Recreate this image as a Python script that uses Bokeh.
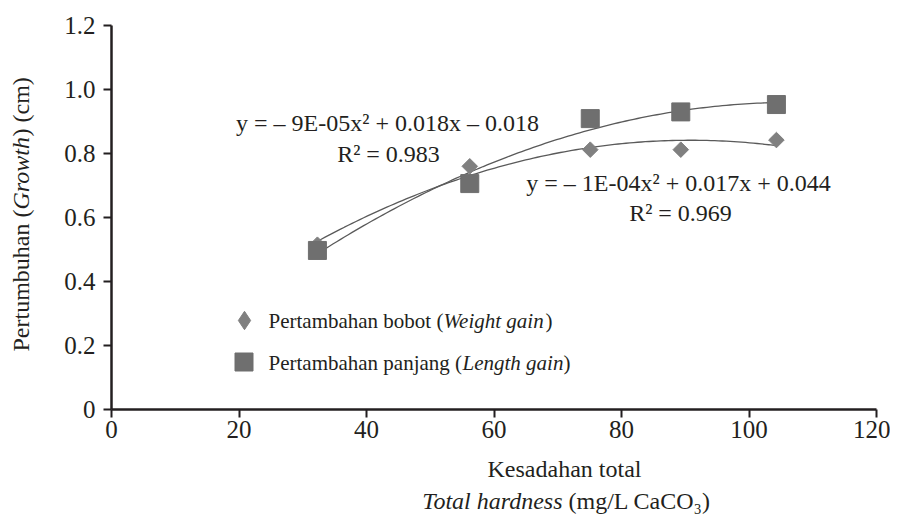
import numpy as np
from bokeh.plotting import figure
from bokeh.layouts import row, column
from bokeh.models import (Range1d, FixedTicker, CustomJSTickFormatter, Label,
                          Legend, LegendItem, ColumnDataSource)
from bokeh.embed import file_html
from bokeh.resources import INLINE

# ---- data ----
hardness = [32.3, 56.2, 75.1, 89.3, 104.3]
weight_gain = [0.515, 0.760, 0.812, 0.812, 0.842]
length_gain = [0.497, 0.706, 0.909, 0.930, 0.953]
x_ticks = [0, 20, 40, 60, 80, 100, 120]
y_ticks = [0, 0.2, 0.4, 0.6, 0.8, 1.0, 1.2]
eq_weight = "y = \u2013 1E-04x\u00b2 + 0.017x + 0.044"
r2_weight = "R\u00b2 = 0.969"
eq_length = "y = \u2013 9E-05x\u00b2 + 0.018x \u2013 0.018"
r2_length = "R\u00b2 = 0.983"

FONT = "Liberation Serif"
INK = "#231f20"


def text_panel(w, h):
    f = figure(width=w, height=h, output_backend="svg", toolbar_location=None,
               x_range=Range1d(0, 1), y_range=Range1d(0, 1),
               x_axis_location=None, y_axis_location=None, min_border=0)
    f.outline_line_color = None
    f.grid.visible = False
    return f


p = figure(width=850, height=455, output_backend="svg", toolbar_location=None,
           x_range=Range1d(0, 120), y_range=Range1d(0, 1.2),
           min_border_left=71, min_border_right=14, min_border_top=25,
           min_border_bottom=46)
p.outline_line_color = None
p.grid.visible = False

for ax in (p.xaxis[0], p.yaxis[0]):
    ax.axis_line_width = 2.5
    ax.axis_line_color = INK
    ax.major_tick_line_width = 2
    ax.major_tick_line_color = INK
    ax.major_tick_out = 8
    ax.major_tick_in = 0
    ax.minor_tick_line_color = None
    ax.major_label_text_font = FONT
    ax.major_label_text_font_size = "25px"
    ax.major_label_text_color = INK
p.xaxis[0].ticker = FixedTicker(ticks=x_ticks)
p.yaxis[0].ticker = FixedTicker(ticks=y_ticks)
p.yaxis[0].formatter = CustomJSTickFormatter(code="return tick == 0 ? '0' : tick.toFixed(1);")
p.xaxis[0].major_label_standoff = 3
p.yaxis[0].major_label_standoff = 8

# ---- trend lines (quadratic fits of the data) ----
xs = np.linspace(min(hardness), max(hardness), 120)
for ys in (weight_gain, length_gain):
    c = np.polyfit(hardness, ys, 2)
    p.line(xs, np.polyval(c, xs), line_color="#5a5a5a", line_width=1.3)

src = ColumnDataSource(dict(x=hardness, w=weight_gain, l=length_gain))
# diamond marker (used for the legend glyph), hidden under the rotated squares
r_wl = p.scatter("x", "w", source=src, marker="diamond", size=13,
                 fill_color="#808080", line_color="#808080")
r_w = p.scatter("x", "w", source=src, marker="square", angle=np.pi / 4, size=11,
                fill_color="#808080", line_color="#808080")
r_l = p.scatter("x", "l", source=src, marker="square", size=18,
                fill_color="#6f6f6f", line_color="#6f6f6f")

# ---- legend (two legends so marker sizes differ) ----
leg1 = Legend(items=[LegendItem(label=" ", renderers=[r_wl])], location=(110, 66),
              glyph_width=46, glyph_height=46, label_height=46, padding=0, margin=0,
              spacing=0, border_line_color=None, background_fill_alpha=0,
              label_standoff=0)
leg2 = Legend(items=[LegendItem(label=" ", renderers=[r_l])], location=(110, 25),
              glyph_width=45, glyph_height=45, label_height=45, padding=0, margin=0,
              spacing=0, border_line_color=None, background_fill_alpha=0,
              label_standoff=0)
p.add_layout(leg1, "center")
p.add_layout(leg2, "center")


def lab(fig, text, x, y, size, align="left", style="normal", angle=0.0):
    fig.add_layout(Label(text=text, x=x, y=y, x_units="screen", y_units="screen",
                         text_font=FONT, text_font_size=size, text_color=INK,
                         text_font_style=style, text_align=align,
                         text_baseline="middle", angle=angle))


# legend texts (Times metrics)
LS = "21px"
lab(p, "Pertambahan bobot (", 157, 89, LS)
lab(p, "Weight gain", 157 + 175, 89, LS, style="italic")
lab(p, ")", 157 + 175 + 102, 89, LS)
lab(p, "Pertambahan panjang (", 157, 47, LS)
lab(p, "Length gain", 157 + 194, 47, LS, style="italic")
lab(p, ")", 157 + 194 + 101, 47, LS)

# equations
ES = "24px"
lab(p, eq_length, 276, 287, ES, align="center")
lab(p, r2_length, 277, 256, ES, align="center")
lab(p, eq_weight, 567, 227, ES, align="center")
lab(p, r2_weight, 569, 197, ES, align="center")

AS = "24px"
# x axis title panel
xfig = text_panel(850, 62)
lab(xfig, "Kesadahan total", 453, 49, AS, align="center")
lab(xfig, "Total hardness", 451, 17, AS, align="right", style="italic")
lab(xfig, "(mg/L CaCO\u2083)", 457, 17, AS, align="left")

# y axis title panel (rotated, reads bottom to top)
yfig = text_panel(40, 517)
ang = np.pi / 2
lab(yfig, "Pertumbuhan (", 20, 308, AS, align="right", angle=ang)
lab(yfig, "Growth", 20, 308, AS, align="left", style="italic", angle=ang)
lab(yfig, ") (cm)", 20, 308 + 73, AS, align="left", angle=ang)

layout = row(yfig, column(p, xfig))
open("out.html", "w").write(file_html(layout, INLINE))
